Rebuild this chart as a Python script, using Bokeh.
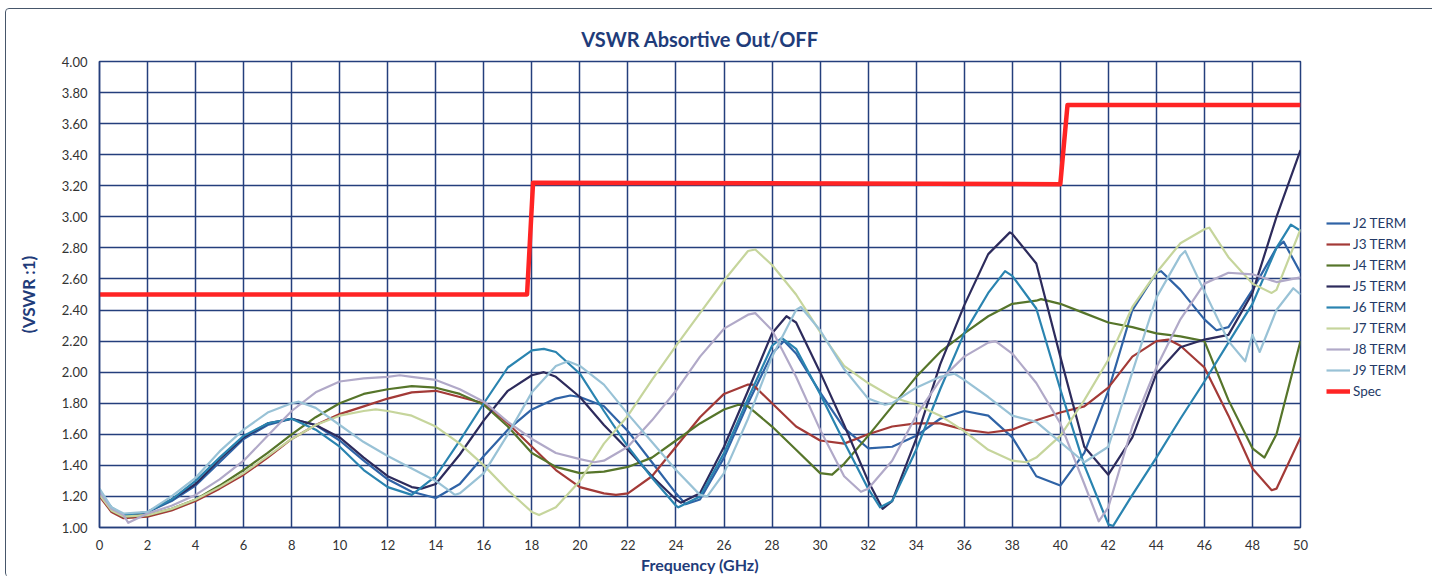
from bokeh.plotting import figure
from bokeh.models import Legend, LegendItem, FixedTicker, NumeralTickFormatter, Range1d
from bokeh.embed import file_html
from bokeh.resources import INLINE

# ---------------- data ----------------
FREQ = list(range(51))
X_TICKS = list(range(0, 51, 2))
Y_TICKS = [1.0, 1.2, 1.4, 1.6, 1.8, 2.0, 2.2, 2.4, 2.6, 2.8, 3.0, 3.2, 3.4, 3.6, 3.8, 4.0]

J2 = [1.24, 1.08, 1.10, 1.17, 1.27, 1.42, 1.57, 1.66, 1.70, 1.66,
      1.56, 1.43, 1.31, 1.23, 1.19, 1.28, 1.46, 1.63, 1.76, 1.83,
      1.84, 1.78, 1.62, 1.42, 1.22, 1.18, 1.45, 1.80, 2.12, 2.12,
      1.87, 1.64, 1.51, 1.52, 1.59, 1.70, 1.75, 1.72, 1.58, 1.33,
      1.27, 1.48, 1.88, 2.40, 2.64, 2.53, 2.34, 2.29, 2.53, 2.80, 2.64]
J2_XF = [0.5, 19.6, 24.4, 28.5, 44.2, 46.5, 49.3]
J2_XV = [1.12, 1.85, 1.15, 2.20, 2.65, 2.27, 2.84]

J3 = [1.20, 1.06, 1.07, 1.11, 1.17, 1.25, 1.34, 1.45, 1.57, 1.66,
      1.73, 1.78, 1.83, 1.87, 1.88, 1.84, 1.80, 1.67, 1.52, 1.37,
      1.26, 1.22, 1.22, 1.33, 1.52, 1.71, 1.86, 1.92, 1.80, 1.65,
      1.56, 1.54, 1.60, 1.65, 1.67, 1.67, 1.63, 1.61, 1.63, 1.69,
      1.74, 1.78, 1.90, 2.10, 2.20, 2.17, 2.03, 1.72, 1.38, 1.25, 1.58]
J3_XF = [0.5, 21.5, 27.2, 44.5, 48.8]
J3_XV = [1.10, 1.21, 1.92, 2.21, 1.24]

J4 = [1.22, 1.07, 1.08, 1.12, 1.18, 1.27, 1.37, 1.48, 1.60, 1.71,
      1.80, 1.86, 1.89, 1.91, 1.90, 1.86, 1.79, 1.65, 1.48, 1.39,
      1.35, 1.36, 1.39, 1.45, 1.56, 1.67, 1.76, 1.78, 1.65, 1.50,
      1.35, 1.41, 1.59, 1.78, 1.97, 2.13, 2.25, 2.36, 2.44, 2.46,
      2.44, 2.38, 2.32, 2.29, 2.25, 2.23, 2.20, 1.82, 1.51, 1.60, 2.20]
J4_XF = [0.5, 26.6, 30.5, 39.2, 48.5]
J4_XV = [1.11, 1.79, 1.34, 2.47, 1.45]

J5 = [1.23, 1.07, 1.10, 1.18, 1.28, 1.44, 1.58, 1.67, 1.70, 1.66,
      1.58, 1.45, 1.33, 1.26, 1.28, 1.47, 1.69, 1.88, 1.98, 1.97,
      1.84, 1.66, 1.50, 1.33, 1.18, 1.22, 1.52, 1.88, 2.25, 2.32,
      2.00, 1.66, 1.30, 1.17, 1.57, 2.05, 2.43, 2.76, 2.89, 2.70,
      2.10, 1.52, 1.34, 1.58, 1.99, 2.16, 2.21, 2.24, 2.51, 3.00, 3.43]
J5_XF = [0.5, 13.4, 18.5, 24.2, 28.6, 32.6, 37.9]
J5_XV = [1.12, 1.25, 2.00, 1.16, 2.36, 1.12, 2.90]

J6 = [1.22, 1.08, 1.10, 1.18, 1.30, 1.45, 1.59, 1.67, 1.70, 1.63,
      1.52, 1.37, 1.26, 1.21, 1.33, 1.56, 1.80, 2.03, 2.14, 2.13,
      1.99, 1.75, 1.52, 1.32, 1.14, 1.20, 1.48, 1.83, 2.17, 2.15,
      1.86, 1.55, 1.25, 1.17, 1.50, 1.89, 2.25, 2.51, 2.62, 2.41,
      1.89, 1.40, 1.02, 1.21, 1.45, 1.70, 1.94, 2.19, 2.44, 2.80, 2.91]
J6_XF = [0.5, 18.5, 24.1, 28.4, 32.5, 37.7, 42.2, 49.6]
J6_XV = [1.13, 2.15, 1.13, 2.22, 1.13, 2.65, 1.01, 2.95]

J7 = [1.21, 1.07, 1.08, 1.12, 1.18, 1.26, 1.35, 1.46, 1.57, 1.66,
      1.72, 1.75, 1.75, 1.72, 1.65, 1.54, 1.40, 1.24, 1.10, 1.13,
      1.30, 1.54, 1.72, 1.95, 2.17, 2.38, 2.59, 2.78, 2.69, 2.50,
      2.26, 2.04, 1.93, 1.84, 1.79, 1.72, 1.62, 1.50, 1.43, 1.45,
      1.59, 1.82, 2.08, 2.42, 2.64, 2.83, 2.92, 2.74, 2.57, 2.53, 2.92]
J7_XF = [0.5, 11.5, 18.3, 27.3, 38.6, 46.2, 48.8]
J7_XV = [1.11, 1.76, 1.08, 2.79, 1.42, 2.93, 2.51]

J8 = [1.23, 1.08, 1.09, 1.14, 1.21, 1.31, 1.43, 1.59, 1.75, 1.87,
      1.94, 1.96, 1.97, 1.97, 1.95, 1.89, 1.81, 1.68, 1.57, 1.48,
      1.44, 1.43, 1.52, 1.69, 1.88, 2.10, 2.28, 2.37, 2.27, 1.97,
      1.63, 1.33, 1.25, 1.43, 1.72, 1.95, 2.10, 2.19, 2.12, 1.93,
      1.67, 1.28, 1.13, 1.65, 2.03, 2.34, 2.57, 2.64, 2.63, 2.58, 2.61]
J8_XF = [0.5, 1.2, 12.5, 20.6, 27.3, 31.7, 37.3, 41.6]
J8_XV = [1.12, 1.03, 1.98, 1.42, 2.38, 1.23, 2.20, 1.04]

J9 = [1.25, 1.09, 1.10, 1.20, 1.32, 1.49, 1.63, 1.74, 1.80, 1.77,
      1.66, 1.55, 1.46, 1.38, 1.30, 1.22, 1.35, 1.60, 1.87, 2.04,
      2.04, 1.92, 1.73, 1.55, 1.37, 1.21, 1.35, 1.70, 2.10, 2.40,
      2.27, 2.02, 1.83, 1.80, 1.90, 1.97, 1.95, 1.84, 1.72, 1.68,
      1.55, 1.42, 1.52, 2.00, 2.48, 2.75, 2.52, 2.20, 2.24, 2.40, 2.50]
J9_XF = [0.5, 8.3, 14.8, 19.5, 25.3, 29.2, 32.7, 35.6, 45.2, 47.7, 48.3, 49.7]
J9_XV = [1.13, 1.81, 1.21, 2.07, 1.20, 2.42, 1.79, 1.99, 2.78, 2.07, 2.13, 2.54]

SPEC_F = [0, 17.8, 18.05, 40.0, 40.3, 50]
SPEC_V = [2.50, 2.50, 3.22, 3.21, 3.72, 3.72]

SERIES = [
    ("J2 TERM", J2, J2_XF, J2_XV, "#2f63a6"),
    ("J3 TERM", J3, J3_XF, J3_XV, "#a33a37"),
    ("J4 TERM", J4, J4_XF, J4_XV, "#56752a"),
    ("J5 TERM", J5, J5_XF, J5_XV, "#2d2b5c"),
    ("J6 TERM", J6, J6_XF, J6_XV, "#2a84b0"),
    ("J7 TERM", J7, J7_XF, J7_XV, "#c6d59c"),
    ("J8 TERM", J8, J8_XF, J8_XV, "#b1a9c8"),
    ("J9 TERM", J9, J9_XF, J9_XV, "#99c2d6"),
]


def merged(base, xf, xv):
    pts = dict(zip(FREQ, base))
    pts.update(zip(xf, xv))
    ks = sorted(pts)
    return ks, [pts[k] for k in ks]


# ---------------- figure ----------------
GRID = "#243f7c"
TXT_BLUE = "#1f3c7a"
FONT = "Lato"

p = figure(frame_width=1201, frame_height=466,
           min_border_left=93, min_border_right=129, min_border_top=52, min_border_bottom=47,
           x_range=Range1d(0, 50), y_range=Range1d(1, 4),
           output_backend="svg", toolbar_location=None,
           title="VSWR Absortive Out/OFF")
p.styles = {"margin-left": "5px", "margin-top": "8px",
            "border": "1px solid #46566a", "border-radius": "4px"}
p.background_fill_color = "white"
p.border_fill_color = "white"
p.outline_line_color = GRID
p.outline_line_width = 1.5

p.title.align = "center"
p.title.text_font = FONT
p.title.text_font_style = "bold"
p.title.text_font_size = "20px"
p.title.text_color = TXT_BLUE
p.title.standoff = 22

p.xaxis.ticker = FixedTicker(ticks=X_TICKS)
p.yaxis.ticker = FixedTicker(ticks=Y_TICKS)
p.yaxis.formatter = NumeralTickFormatter(format="0.00")
p.xgrid.ticker = FixedTicker(ticks=X_TICKS)
p.ygrid.ticker = FixedTicker(ticks=Y_TICKS)
for g in (p.xgrid, p.ygrid):
    g.grid_line_color = GRID
    g.grid_line_width = 1.5
    g.grid_line_alpha = 1.0

for ax in (p.xaxis, p.yaxis):
    ax.axis_line_color = GRID
    ax.axis_line_width = 1.5
    ax.major_tick_in = 0
    ax.major_tick_out = 0
    ax.minor_tick_line_color = None
    ax.major_label_text_font = FONT
    ax.major_label_text_font_size = "13px"
    ax.major_label_text_color = "#333333"
    ax.axis_label_text_font = FONT
    ax.axis_label_text_font_style = "bold"
    ax.axis_label_text_color = TXT_BLUE

p.xaxis.axis_label = "Frequency (GHz)"
p.xaxis.axis_label_text_font_size = "16px"
p.xaxis.major_label_standoff = 12
p.xaxis.axis_label_standoff = 2
p.yaxis.axis_label = "(VSWR :1)"
p.yaxis.axis_label_text_font_size = "17px"
p.yaxis.major_label_standoff = 12
p.yaxis.axis_label_standoff = 20

items = []
for name, base, xf, xv, col in SERIES:
    xs, ys = merged(base, xf, xv)
    r = p.line(xs, ys, line_color=col, line_width=2.2, line_join="round")
    items.append(LegendItem(label=name, renderers=[r]))
rs = p.line(SPEC_F, SPEC_V, line_color="#ff2424", line_width=4.5, line_join="round")
items.append(LegendItem(label="Spec", renderers=[rs]))

legend = Legend(items=items, location=(20, 121))
legend.margin = 0
legend.padding = 6
legend.spacing = 3
legend.glyph_width = 24
legend.glyph_height = 18
legend.label_height = 18
legend.label_standoff = 3
legend.label_text_font = FONT
legend.label_text_font_size = "13.5px"
legend.label_text_color = "#243a66"
legend.border_line_alpha = 0
legend.background_fill_alpha = 0
p.add_layout(legend, "right")

open("out.html", "w").write(file_html(p, INLINE))
